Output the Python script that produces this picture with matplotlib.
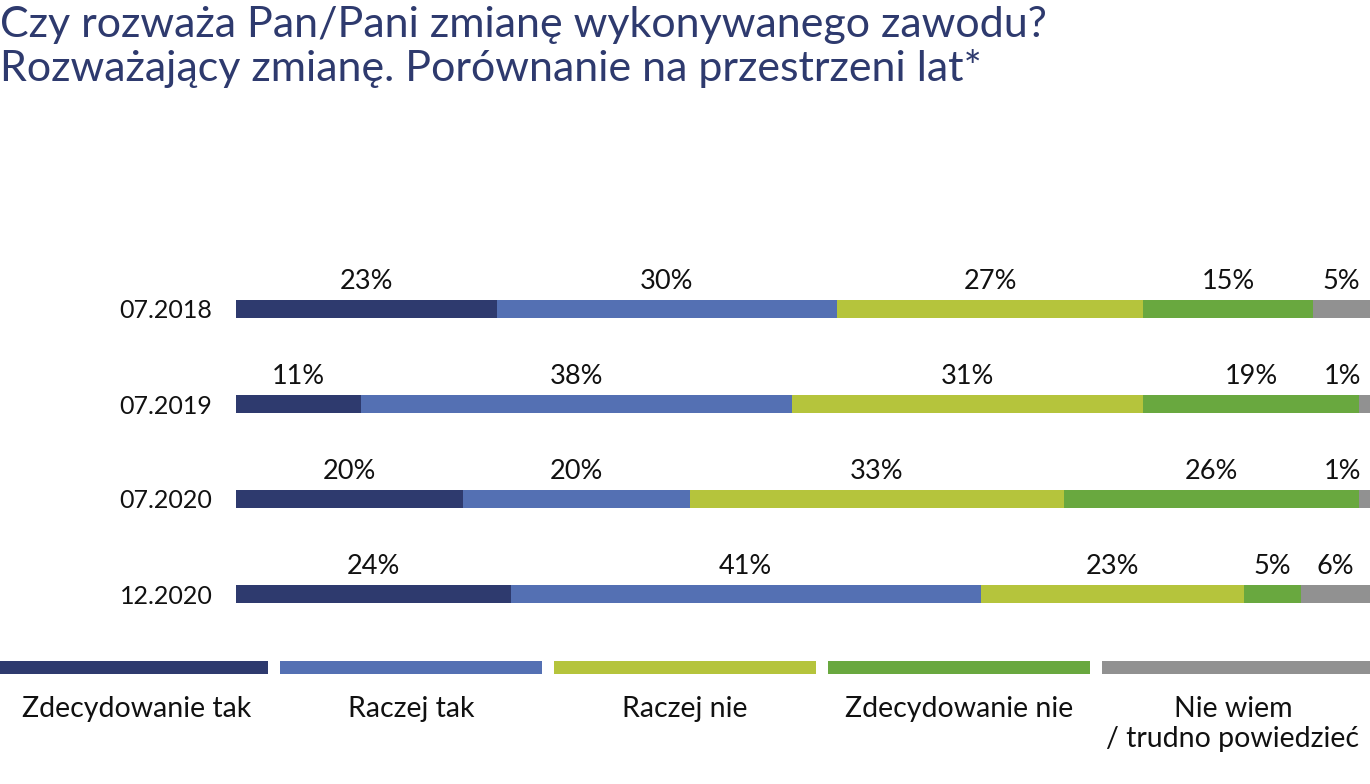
import numpy as np
import matplotlib.pyplot as plt
from matplotlib.patches import Rectangle

plt.rcParams['font.family'] = ['Lato', 'DejaVu Sans']

# dane
okresy = ['07.2018', '07.2019', '07.2020', '12.2020']
kategorie = ['Zdecydowanie tak', 'Raczej tak', 'Raczej nie', 'Zdecydowanie nie',
             'Nie wiem\n/ trudno powiedzieć']
zdecydowanie_tak = [23, 11, 20, 24]
raczej_tak = [30, 38, 20, 41]
raczej_nie = [27, 31, 33, 23]
zdecydowanie_nie = [15, 19, 26, 5]
nie_wiem = [5, 1, 1, 6]

kolory = ['#2e3a6e', '#5470b3', '#b5c43c', '#69a83f', '#919191']
tytul = 'Czy rozważa Pan/Pani zmianę wykonywanego zawodu?\nRozważający zmianę. Porównanie na przestrzeni lat*'
kolor_txt = '#111111'

W, H = 1370, 784
fig = plt.figure(figsize=(W / 100, H / 100), dpi=100)

fig.text(0.0, 1 - 6 / H, tytul, ha='left', va='top', fontsize=31,
         color='#2e3a6e', linespacing=1.15)

# wykres glowny
ax = fig.add_axes([236 / W, 1 - 640 / H, 1 - 236 / W, 390 / H])
serie = np.array([zdecydowanie_tak, raczej_tak, raczej_nie, zdecydowanie_nie, nie_wiem], dtype=float)
sumy = serie.sum(axis=0)
szer = serie / sumy * 100  # normalizacja do pelnej szerokosci
y = np.arange(len(okresy))
lewo = np.zeros(len(okresy))
for k in range(len(serie)):
    ax.barh(y, szer[k], left=lewo, height=0.19, color=kolory[k], linewidth=0)
    for i in range(len(okresy)):
        tekst = '{:d}%'.format(int(serie[k][i]))
        if k == len(serie) - 1 and szer[k][i] < 3:
            # waski segment przy krawedzi - etykieta do prawej
            ax.annotate(tekst, (100, y[i] - 0.095), xytext=(-6, 8), textcoords='offset points',
                        ha='right', va='baseline', fontsize=19.5, color=kolor_txt)
        else:
            ax.annotate(tekst, (lewo[i] + szer[k][i] / 2, y[i] - 0.095),
                        xytext=(0, 8), textcoords='offset points', ha='center', va='baseline',
                        fontsize=19.5, color=kolor_txt)
    lewo += szer[k]

ax.set_xlim(0, 100)
ax.set_ylim(3 + 46 / 95, -59 / 95)
ax.set_yticks(y)
ax.set_yticklabels(okresy, fontsize=18, color=kolor_txt)
ax.tick_params(axis='y', length=0, pad=17)
ax.set_xticks([])
for s in ax.spines.values():
    s.set_visible(False)

# legenda
leg = fig.add_axes([0, 0, 1, 1])
leg.set_xlim(0, 1)
leg.set_ylim(0, 1)
leg.axis('off')
slot = 1 / len(kategorie)
gap = 6 / W
for k, nazwa in enumerate(kategorie):
    x0 = k * slot + gap if k > 0 else 0
    x1 = (k + 1) * slot - gap if k < len(kategorie) - 1 else 1
    leg.add_patch(Rectangle((x0, 1 - 674 / H), x1 - x0, 13 / H, color=kolory[k], lw=0))
    leg.text((k + 0.5) * slot, 1 - 696 / H, nazwa, ha='center', va='top', fontsize=20.5,
             color=kolor_txt, linespacing=1.2)

fig.savefig('out.png', dpi=100)
